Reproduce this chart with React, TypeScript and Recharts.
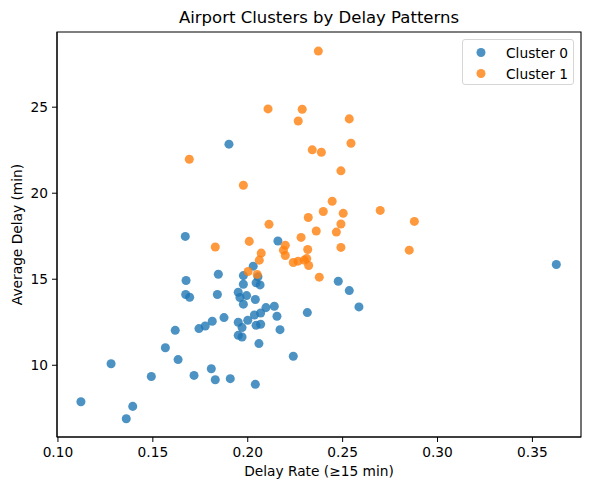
import { ScatterChart, Scatter, XAxis, YAxis, ZAxis, ReferenceArea } from 'recharts';

const seriesNames = ['Cluster 0', 'Cluster 1'];
const seriesColors = ['#1f77b4', '#ff7f0e'];

const cluster0Rate = [
  0.1121, 0.128, 0.1394, 0.136, 0.1492, 0.1566, 0.1633, 0.1618, 0.1717, 0.1808,
  0.1829, 0.1908, 0.1743, 0.1776, 0.1813, 0.1875, 0.1675, 0.1673, 0.1694, 0.1845,
  0.184, 0.2029, 0.1977, 0.2054, 0.2065, 0.2044, 0.1977, 0.195, 0.1959, 0.1994,
  0.1977, 0.204, 0.2096, 0.214, 0.2068, 0.2035, 0.2, 0.195, 0.197, 0.2044,
  0.2068, 0.2154, 0.217, 0.195, 0.197, 0.2059, 0.224, 0.204, 0.1901, 0.1671,
  0.2159, 0.3626, 0.2477, 0.2535, 0.2586, 0.2314,
];
const cluster0Delay = [
  7.88, 10.09, 7.61, 6.89, 9.35, 11.02, 10.33, 12.03, 9.41, 9.8,
  9.16, 9.22, 12.13, 12.28, 12.56, 12.77, 14.93, 14.11, 13.95, 15.29,
  14.11, 15.76, 15.21, 15.14, 14.67, 14.79, 14.71, 14.24, 13.94, 14.05,
  13.55, 13.82, 13.35, 13.43, 13.04, 12.92, 12.61, 12.5, 12.19, 12.32,
  12.38, 12.85, 12.07, 11.74, 11.64, 11.26, 10.52, 8.89, 22.85, 17.49,
  17.22, 15.86, 14.88, 14.34, 13.39, 13.06,
];

const cluster1Rate = [
  0.2372, 0.2287, 0.2107, 0.2266, 0.2535, 0.2544, 0.234, 0.2388, 0.1692, 0.2491,
  0.1977, 0.2445, 0.2398, 0.2319, 0.2503, 0.2698, 0.2112, 0.2878, 0.2491, 0.2467,
  0.2361, 0.2281, 0.2008, 0.2198, 0.2188, 0.2198, 0.1829, 0.2491, 0.2316, 0.2851,
  0.2071, 0.2061, 0.224, 0.2265, 0.2298, 0.2311, 0.2321, 0.2002, 0.205, 0.2377,
];
const cluster1Delay = [
  28.26, 24.88, 24.9, 24.2, 24.32, 22.9, 22.52, 22.38, 21.97, 21.3,
  20.46, 19.53, 18.94, 18.59, 18.83, 19.0, 18.19, 18.36, 18.21, 17.74,
  17.8, 17.43, 17.2, 16.97, 16.69, 16.38, 16.87, 16.85, 16.73, 16.69,
  16.52, 16.11, 15.97, 16.05, 16.11, 16.2, 15.8, 15.45, 15.28, 15.12,
];

const xTicks = [0.1, 0.15, 0.2, 0.25, 0.3, 0.35];
const yTicks = [10, 15, 20, 25];
const xDomain = [0.0995, 0.3756];
const yDomain = [5.83, 29.37];

const cluster0 = cluster0Rate.map((x, i) => ({ x, y: cluster0Delay[i] }));
const cluster1 = cluster1Rate.map((x, i) => ({ x, y: cluster1Delay[i] }));

const FONT = '"DejaVu Sans", sans-serif';

function LegendBox() {
  return (
    <div
      style={{
        position: 'absolute',
        left: 462,
        top: 39,
        width: 112,
        height: 46,
        border: '1px solid #d6d6d6',
        borderRadius: 3,
        background: 'rgba(255,255,255,0.8)',
        fontFamily: FONT,
        fontSize: 13.75,
        color: '#000',
        boxSizing: 'border-box',
        paddingTop: 2,
      }}
    >
      {seriesNames.map((name, i) => (
        <div key={name} style={{ display: 'flex', alignItems: 'center', height: 21 }}>
          <svg width={40} height={21}>
            <circle cx={18} cy={10.5} r={4.5} fill={seriesColors[i]} fillOpacity={0.8} />
          </svg>
          <span style={{ marginLeft: 3 }}>{name}</span>
        </div>
      ))}
    </div>
  );
}

export default function App() {
  return (
    <div style={{ position: 'absolute', left: 0, top: 0, width: 590, height: 490, background: '#fff', fontFamily: FONT }}>
      <div
        style={{
          position: 'absolute',
          left: 57,
          width: 524,
          top: 10,
          textAlign: 'center',
          fontSize: 16.5,
          lineHeight: 1,
          color: '#000',
        }}
      >
        Airport Clusters by Delay Patterns
      </div>
      <ScatterChart width={590} height={490} margin={{ top: 32, right: 9, bottom: 0, left: 0 }}>
        <XAxis
          type="number"
          dataKey="x"
          domain={xDomain}
          ticks={xTicks}
          allowDataOverflow
          tickFormatter={(v: number) => v.toFixed(2)}
          height={53}
          tickSize={5}
          tickMargin={5}
          stroke="#000"
          tick={{ fill: '#000', fontSize: 13.75, fontFamily: FONT }}
          label={{ value: 'Delay Rate (≥15 min)', position: 'insideBottom', offset: 14, fill: '#000', fontSize: 13.75, fontFamily: FONT }}
        />
        <YAxis
          type="number"
          dataKey="y"
          domain={yDomain}
          ticks={yTicks}
          allowDataOverflow
          width={57}
          tickSize={5}
          tickMargin={4}
          stroke="#000"
          tick={{ fill: '#000', fontSize: 13.75, fontFamily: FONT }}
          label={{ value: 'Average Delay (min)', angle: -90, position: 'insideLeft', offset: 17, textAnchor: 'middle', fill: '#000', fontSize: 13.75, fontFamily: FONT }}
        />
        <ZAxis range={[64, 64]} />
        <ReferenceArea x1={xDomain[0]} x2={xDomain[1]} y1={yDomain[0]} y2={yDomain[1]} fill="none" stroke="#000" strokeWidth={1.1} ifOverflow="visible" />
        <Scatter name={seriesNames[0]} data={cluster0} fill={seriesColors[0]} fillOpacity={0.8} isAnimationActive={false} />
        <Scatter name={seriesNames[1]} data={cluster1} fill={seriesColors[1]} fillOpacity={0.8} isAnimationActive={false} />
      </ScatterChart>
      <LegendBox />
    </div>
  );
}
